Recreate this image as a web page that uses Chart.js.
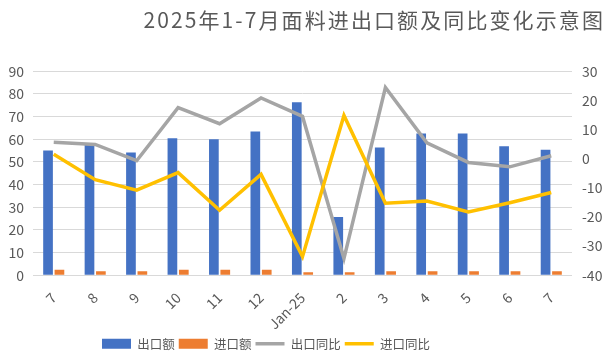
<!DOCTYPE html>
<html>
<head>
<meta charset="utf-8">
<script src="https://cdn.jsdelivr.net/npm/chart.js@4/dist/chart.umd.min.js"></script>
<style>
  html, body { margin: 0; padding: 0; background: #ffffff; }
  #wrap { width: 616px; height: 360px; }
</style>
</head>
<body>
<div id="wrap"><canvas id="c" width="616" height="360"></canvas></div>
<script>
const categories = ['7', '8', '9', '10', '11', '12', 'Jan-25', '2', '3', '4', '5', '6', '7'];
const exportValue = [55.0, 57.5, 54.1, 60.4, 60.0, 63.4, 76.3, 25.7, 56.3, 62.5, 62.5, 56.9, 55.4];
const importValue = [2.4, 1.8, 1.8, 2.4, 2.4, 2.4, 1.3, 1.3, 1.8, 1.8, 1.8, 1.8, 1.8];
const exportYoY = [5.6, 4.9, -0.7, 17.5, 12.0, 20.8, 14.5, -34.2, 24.4, 5.4, -1.3, -2.8, 1.0];
const importYoY = [1.5, -7.2, -10.8, -4.8, -17.7, -5.4, -33.6, 14.8, -15.3, -14.5, -18.3, -15.1, -11.6];
const seriesNames = ['出口额', '进口额', '出口同比', '进口同比'];
const titleText = '2025年1-7月面料进出口额及同比变化示意图';

const fontFamily = '"Noto Sans CJK SC", "Noto Sans", sans-serif';
const textColor = '#595959';

const boxTweaks = {
  id: 'boxTweaks',
  afterInit(chart) {
    const tb = chart.titleBlock;
    if (tb) {
      const orig = tb.draw.bind(tb);
      tb.draw = function (area) {
        const ctx = chart.ctx;
        ctx.save();
        ctx.letterSpacing = '2.1px';
        orig(area);
        ctx.restore();
      };
    }
  },
  afterLayout(chart) {
    const lg = chart.legend;
    if (lg) { lg.left -= 42; lg.right -= 42; }
    const tb = chart.titleBlock;
    if (tb) { tb.left -= 11; tb.right -= 11; }
  }
};

new Chart(document.getElementById('c'), {
  data: {
    labels: categories,
    datasets: [
      {
        type: 'line', label: seriesNames[2], data: exportYoY, yAxisID: 'y1',
        borderColor: '#a5a5a5', backgroundColor: '#a5a5a5', borderWidth: 3.5,
        pointRadius: 0, pointStyle: 'line', tension: 0, order: 1
      },
      {
        type: 'line', label: seriesNames[3], data: importYoY, yAxisID: 'y1',
        borderColor: '#ffc000', backgroundColor: '#ffc000', borderWidth: 3.5,
        pointRadius: 0, pointStyle: 'line', tension: 0, order: 0
      },
      {
        type: 'bar', label: seriesNames[0], data: exportValue, yAxisID: 'y',
        backgroundColor: '#4472c4', pointStyle: 'rect',
        categoryPercentage: 0.55, barPercentage: 0.85, order: 2
      },
      {
        type: 'bar', label: seriesNames[1], data: importValue, yAxisID: 'y',
        backgroundColor: '#ed7d31', pointStyle: 'rect',
        categoryPercentage: 0.55, barPercentage: 0.85, order: 3
      }
    ]
  },
  options: {
    responsive: false,
    animation: false,
    layout: { padding: { left: 0, right: 0, top: 4, bottom: 0 } },
    plugins: {
      title: {
        display: true, text: titleText, align: 'end', color: textColor,
        font: { family: fontFamily, size: 21, weight: 'normal' },
        padding: { top: 3, bottom: 39 }
      },
      legend: {
        position: 'bottom',
        labels: {
          usePointStyle: true, pointStyleWidth: 29, boxHeight: 10,
          color: textColor, padding: 4,
          font: { family: fontFamily, size: 12.5 },
          sort: (a, b) => {
            const o = { '出口额': 0, '进口额': 1, '出口同比': 2, '进口同比': 3 };
            return o[a.text] - o[b.text];
          }
        }
      },
      tooltip: { enabled: false }
    },
    scales: {
      x: {
        grid: { display: false },
        border: { display: false },
        afterFit(scale) { scale.height -= 5; },
        ticks: {
          color: textColor, minRotation: 45, maxRotation: 45, padding: 6,
          font: { family: fontFamily, size: 14 }
        }
      },
      y: {
        position: 'left', min: 0, max: 90,
        grid: { color: '#d9d9d9', lineWidth: 1, drawTicks: false },
        border: { display: false },
        afterFit(scale) { scale.width = 33; },
        ticks: { stepSize: 10, color: textColor, padding: 9, font: { family: fontFamily, size: 14 } }
      },
      y1: {
        position: 'right', min: -40, max: 30,
        grid: { display: false, drawTicks: false },
        border: { display: false },
        afterFit(scale) { scale.width = 44; },
        ticks: { stepSize: 10, color: textColor, padding: 10, font: { family: fontFamily, size: 14 } }
      }
    }
  },
  plugins: [boxTweaks]
});
</script>
</body>
</html>
